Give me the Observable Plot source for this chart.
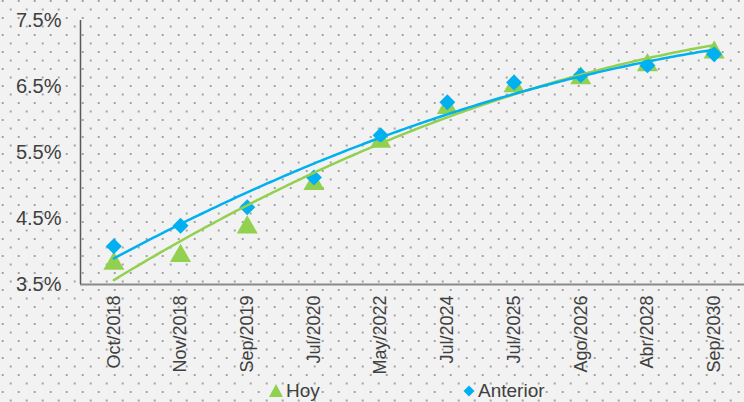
<!DOCTYPE html>
<html>
<head>
<meta charset="utf-8">
<script src="https://cdn.jsdelivr.net/npm/d3@7"></script>
<script src="https://cdn.jsdelivr.net/npm/@observablehq/plot@0.6"></script>
<style>
  html, body { margin: 0; padding: 0; }
  #wrap {
    position: relative; width: 744px; height: 402px; overflow: hidden;
    background-color: #f2f2f2;
    background-image: url("data:image/svg+xml,%3Csvg xmlns='http://www.w3.org/2000/svg' width='16' height='17'%3E%3Crect x='1.7' y='0' width='2' height='2' fill='%23a3a3a3'/%3E%3Crect x='9.7' y='8.5' width='2' height='2' fill='%23a3a3a3'/%3E%3C/svg%3E");
    background-size: 16px 17px;
    font-family: "Liberation Sans", Arial, sans-serif;
    color: #404040;
  }
  #chart svg { display: block; }
  .leg { position: absolute; top: 380px; font-size: 19px; line-height: 21px; height: 21px; display: flex; align-items: center; }
  .leg svg { margin-right: 3px; }
</style>
</head>
<body>
<div id="wrap">
  <div id="chart"></div>
  <div class="leg" style="left:269px">
    <svg width="14" height="13"><polygon points="7,0 14,13 0,13" fill="#92D050"/></svg><span>Hoy</span>
  </div>
  <div class="leg" style="left:463px">
    <svg width="12" height="12"><polygon points="6,0.5 11.5,6 6,11.5 0.5,6" fill="#00B0F0"/></svg><span>Anterior</span>
  </div>
</div>
<script>
const categories = ["Oct/2018","Nov/2018","Sep/2019","Jul/2020","May/2022","Jul/2024","Jul/2025","Ago/2026","Abr/2028","Sep/2030"];
const hoy      = [3.86, 3.98, 4.41, 5.07, 5.71, 6.22, 6.55, 6.67, 6.87, 7.06];
const anterior = [4.08, 4.39, 4.67, 5.12, 5.76, 6.26, 6.56, 6.67, 6.82, 6.99];
const yTicks = [3.5, 4.5, 5.5, 6.5, 7.5];
const seriesNames = ["Hoy", "Anterior"];
const GREEN = "#92D050", BLUE = "#00B0F0";

// Quadratic least-squares trendline (Excel "Polinómica, orden 2"), x = 1..n
function polyfit2(ys) {
  let S = [0,0,0,0,0], T = [0,0,0];
  ys.forEach((y, i) => {
    const x = i + 1;
    for (let k = 0; k < 5; k++) S[k] += Math.pow(x, k);
    for (let k = 0; k < 3; k++) T[k] += y * Math.pow(x, k);
  });
  const A = [[S[0],S[1],S[2],T[0]],[S[1],S[2],S[3],T[1]],[S[2],S[3],S[4],T[2]]];
  for (let i = 0; i < 3; i++) {
    for (let j = i + 1; j < 3; j++) {
      const f = A[j][i] / A[i][i];
      for (let k = i; k < 4; k++) A[j][k] -= f * A[i][k];
    }
  }
  const c = A[2][3] / A[2][2];
  const b = (A[1][3] - A[1][2] * c) / A[1][1];
  const a = (A[0][3] - A[0][1] * b - A[0][2] * c) / A[0][0];
  return x => a + b * x + c * x * x;
}

const points = [];
categories.forEach((c, i) => {
  points.push({i, cat: c, series: "Hoy", v: hoy[i]});
  points.push({i, cat: c, series: "Anterior", v: anterior[i]});
});

function trend(ys, name) {
  const f = polyfit2(ys);
  const out = [];
  for (let t = 1; t <= ys.length + 1e-9; t += 0.05) out.push({i: t - 1, v: f(t), series: name});
  return out;
}
const trendHoy = trend(hoy, "Hoy");
const trendAnt = trend(anterior, "Anterior");

const chart = Plot.plot({
  width: 744,
  height: 380,
  marginLeft: 80,
  marginTop: 20,
  marginBottom: 96,
  marginRight: 0,
  style: {background: "transparent", fontFamily: "Liberation Sans, Arial, sans-serif", color: "#404040", overflow: "hidden"},
  x: {domain: [-0.5, categories.length - 0.5], range: [80, 747]},
  y: {domain: [3.5, 7.5]},
  marks: [
    Plot.axisY({ticks: yTicks, tickSize: 0, tickPadding: 19, fontSize: 20,
      tickFormat: d => d.toFixed(1) + "%", label: null, fill: "#404040"}),
    Plot.axisX({ticks: d3.range(categories.length), tickSize: 0, tickPadding: 11, tickRotate: -90,
      fontSize: 18, tickFormat: i => categories[i], label: null, fill: "#404040"}),
    Plot.ruleY([3.5], {x1: -0.5, x2: categories.length - 0.5, stroke: "#8a8a8a", strokeWidth: 2}),
    Plot.ruleX([-0.5], {y1: 3.5, y2: 7.5, stroke: "#595959", strokeWidth: 1.5}),
    Plot.dot(points.filter(d => d.series === "Hoy"), {x: "i", y: "v", symbol: "triangle", r: 7.8, fill: GREEN, stroke: "none", dy: 3}),
    Plot.dot(points.filter(d => d.series === "Anterior"), {x: "i", y: "v", symbol: "diamond2", r: 7.2, fill: BLUE, stroke: "none"}),
    Plot.line(trendHoy, {x: "i", y: "v", stroke: GREEN, strokeWidth: 2.5}),
    Plot.line(trendAnt, {x: "i", y: "v", stroke: BLUE, strokeWidth: 2.5})
  ]
});
document.getElementById("chart").appendChild(chart);
</script>
</body>
</html>
